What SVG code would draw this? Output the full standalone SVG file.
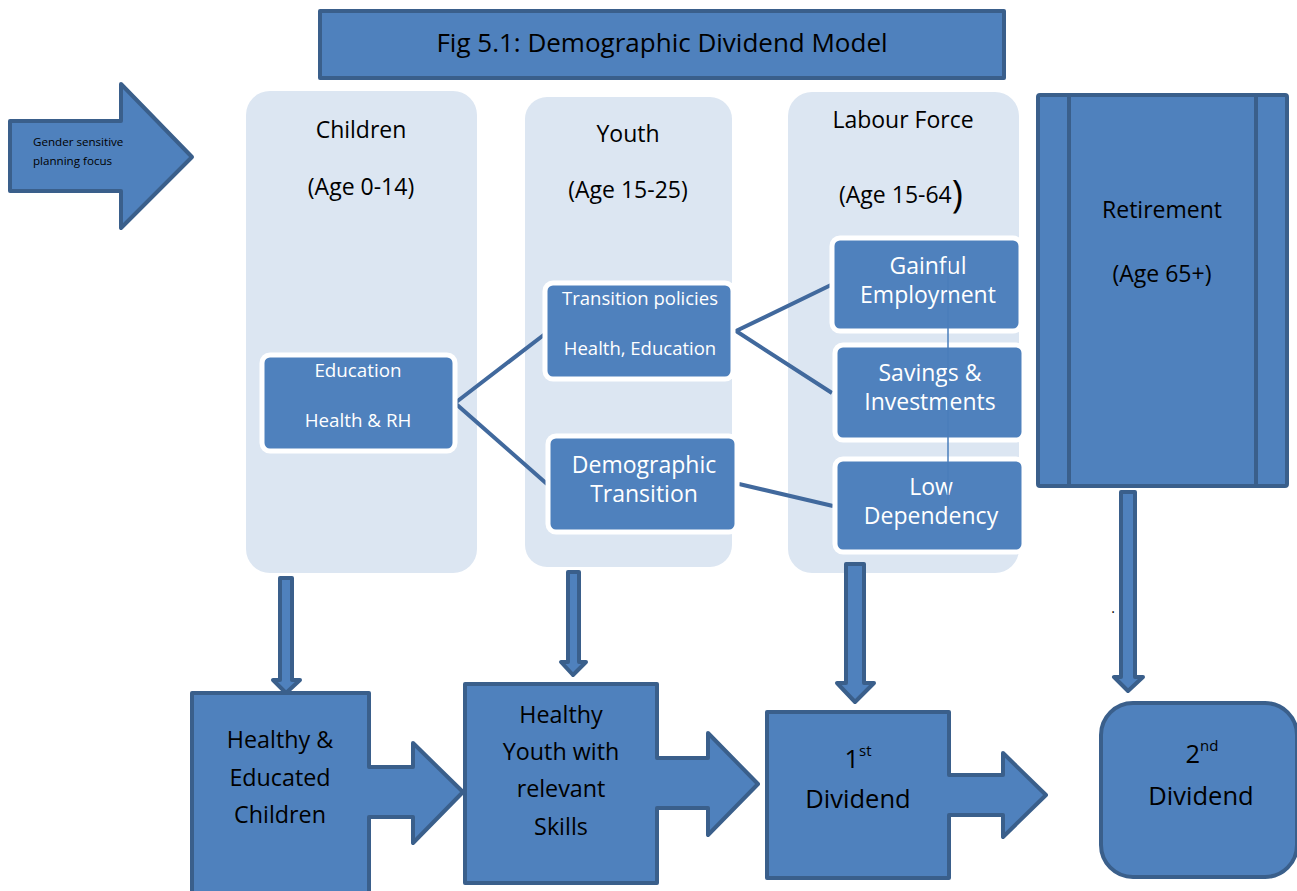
<svg xmlns="http://www.w3.org/2000/svg" width="1297" height="891" viewBox="0 0 1297 891">
  <style>
    .blk { fill: #4F81BD; stroke: #3A5F8B; stroke-width: 4; stroke-linejoin: round; }
    .panel { fill: #DCE6F2; stroke: none; }
    .inner { fill: #4F81BD; stroke: #FFFFFF; stroke-width: 5; }
    .link { fill: none; stroke: #41699D; stroke-width: 4; }
    .t { font-family: "Open Sans", Lato, "Liberation Sans", sans-serif; text-anchor: middle; fill: #000; }
    .w { fill: #FFFFFF; }
  </style>

  <!-- title banner -->
  <g id="title">
    <rect class="blk" x="320" y="11" width="684" height="67"/>
    <text class="t" x="662" y="52" font-size="26">Fig 5.1: Demographic Dividend Model</text>
  </g>

  <!-- side arrow -->
  <g id="gender-focus">
    <path class="blk" d="M10,121 H121 V84 L192,157 L121,228 V191 H10 Z"/>
    <text class="t" x="33" y="146" font-size="11.6" style="text-anchor:start">Gender sensitive</text>
    <text class="t" x="33" y="165" font-size="11.6" style="text-anchor:start">planning focus</text>
  </g>

  <!-- age-group panels -->
  <g id="children">
    <rect class="panel" x="246" y="91" width="231" height="482" rx="24"/>
    <text class="t" x="361" y="138" font-size="23">Children</text>
    <text class="t" x="361" y="195" font-size="23">(Age 0-14)</text>
  </g>
  <g id="youth">
    <rect class="panel" x="525" y="97" width="207" height="470" rx="22"/>
    <text class="t" x="628" y="142" font-size="23">Youth</text>
    <text class="t" x="628" y="198" font-size="23">(Age 15-25)</text>
  </g>
  <g id="labour-force">
    <rect class="panel" x="788" y="92" width="231" height="481" rx="24"/>
    <text class="t" x="903" y="128" font-size="23">Labour Force</text>
    <text class="t" x="901" y="203" font-size="23">(Age 15-64<tspan font-size="38" dy="5">)</tspan></text>
  </g>
  <g id="retirement">
    <rect class="blk" x="1038" y="95" width="249" height="391" rx="2"/>
    <line x1="1069" y1="95" x2="1069" y2="486" stroke="#3A5F8B" stroke-width="4"/>
    <line x1="1256" y1="95" x2="1256" y2="486" stroke="#3A5F8B" stroke-width="4"/>
    <text class="t" x="1162" y="218" font-size="23">Retirement</text>
    <text class="t" x="1162" y="282" font-size="23">(Age 65+)</text>
  </g>

  <!-- connectors -->
  <g id="connectors">
    <polyline class="link" points="545,334 455,403 547,484"/>
    <polyline class="link" points="831,285 736,331 832,393"/>
    <line class="link" x1="739" y1="484" x2="833" y2="506"/>
    <!-- down arrows into the outcome boxes -->
    <path class="blk" stroke-width="3" d="M280,578 H292 V680 H300 L286,693 L273,680 H280 Z"/>
    <path class="blk" stroke-width="3" d="M568,572 H579 V662 H586 L573,675 L561,662 H568 Z"/>
    <path class="blk" stroke-width="3" d="M846,564 H864 V683 H874 L855,702 L837,683 H846 Z"/>
    <path class="blk" stroke-width="3" d="M1121,492 H1135 V677 H1143 L1128,691 L1114,677 H1121 Z"/>
  </g>

  <!-- intermediate boxes -->
  <g id="education">
    <rect class="inner" x="262" y="355" width="193" height="96" rx="8"/>
    <text class="t w" x="358" y="377" font-size="18.8">Education</text>
    <text class="t w" x="358" y="427" font-size="18.8">Health &amp; RH</text>
  </g>
  <g id="transition-policies">
    <rect class="inner" x="545" y="283" width="188" height="96" rx="8"/>
    <text class="t w" x="640" y="305" font-size="18.5">Transition policies</text>
    <text class="t w" x="640" y="355" font-size="18.5">Health, Education</text>
  </g>
  <g id="demographic-transition">
    <rect class="inner" x="548" y="436" width="189" height="96" rx="8"/>
    <text class="t w" x="644" y="473" font-size="23">Demographic</text>
    <text class="t w" x="644" y="502" font-size="23">Transition</text>
  </g>
  <g id="gainful-employment">
    <rect class="inner" x="832" y="238" width="189" height="93" rx="8"/>
    <text class="t w" x="928" y="274" font-size="23">Gainful</text>
    <text class="t w" x="928" y="303" font-size="23">Employment</text>
  </g>
  <g id="savings">
    <rect class="inner" x="835" y="345" width="189" height="95" rx="8"/>
    <text class="t w" x="930" y="381" font-size="23">Savings &amp;</text>
    <text class="t w" x="930" y="410" font-size="23">Investments</text>
  </g>
  <g id="low-dependency">
    <rect class="inner" x="835" y="459" width="189" height="93" rx="8"/>
    <text class="t w" x="931" y="495" font-size="23">Low</text>
    <text class="t w" x="931" y="524" font-size="23">Dependency</text>
  </g>
  <!-- thin guide line running down through the labour-force boxes -->
  <line x1="948" y1="256" x2="948" y2="508" stroke="#4A7EBB" stroke-width="1.5"/>

  <!-- outcome boxes -->
  <g id="healthy-children">
    <path class="blk" d="M192,693 H369 V767 H413 V743 L463,792 L413,843 V817 H369 V895 H192 Z"/>
    <text class="t" x="280" y="748" font-size="23.3">Healthy &amp;</text>
    <text class="t" x="280" y="786" font-size="23.3">Educated</text>
    <text class="t" x="280" y="823" font-size="23.3">Children</text>
  </g>
  <g id="healthy-youth">
    <path class="blk" d="M465,684 H657 V758 H708 V733 L758,784 L708,835 V808 H657 V883 H465 Z"/>
    <text class="t" x="561" y="723" font-size="23.3">Healthy</text>
    <text class="t" x="561" y="760" font-size="23.3">Youth with</text>
    <text class="t" x="561" y="797" font-size="23.3">relevant</text>
    <text class="t" x="561" y="835" font-size="23.3">Skills</text>
  </g>
  <g id="first-dividend">
    <path class="blk" d="M767,712 H949 V775 H1003 V753 L1046,795 L1003,837 V815 H949 V878 H767 Z"/>
    <text class="t" x="858" y="768" font-size="25.5">1<tspan font-size="15" dy="-12">st</tspan></text>
    <text class="t" x="858" y="808" font-size="25.5">Dividend</text>
  </g>
  <g id="second-dividend">
    <rect class="blk" x="1101" y="703" width="196" height="174" rx="32"/>
    <text class="t" x="1202" y="763" font-size="25.5">2<tspan font-size="15" dy="-12">nd</tspan></text>
    <text class="t" x="1201" y="805" font-size="25.5">Dividend</text>
  </g>
  <text class="t" x="1113" y="613" font-size="14">.</text>
</svg>
